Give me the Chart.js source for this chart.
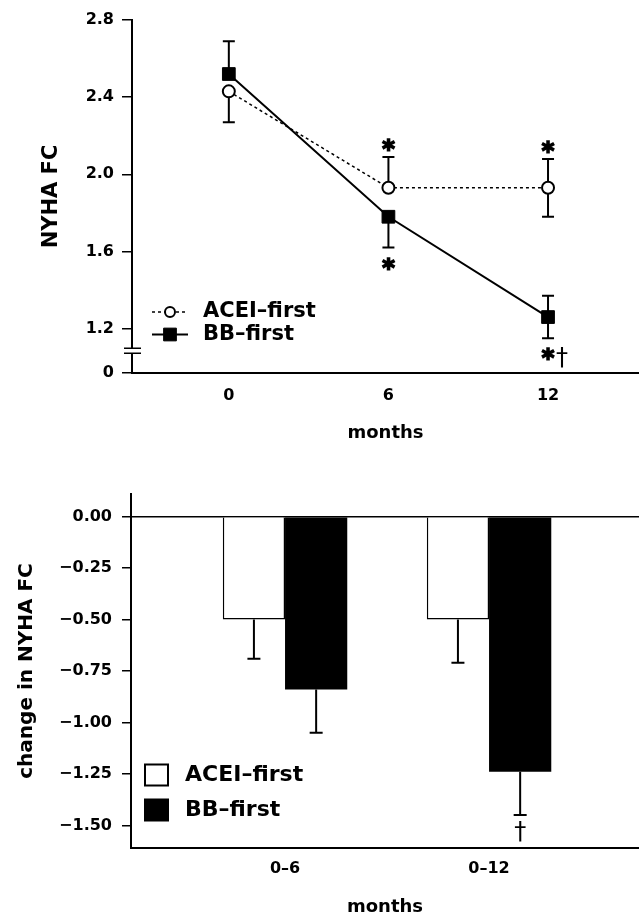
<!DOCTYPE html>
<html>
<head>
<meta charset="utf-8">
<script src="https://cdn.jsdelivr.net/npm/chart.js@4.4.1/dist/chart.umd.min.js"></script>
<style>
  html, body { margin: 0; padding: 0; background: #fff; }
  #wrap { position: relative; width: 639px; height: 918px; }
  canvas { position: absolute; left: 0; }
  #nyhaChart { top: 0; }
  #changeChart { top: 455px; }
</style>
</head>
<body>
<div id="wrap">
  <canvas id="nyhaChart" width="639" height="455"></canvas>
  <canvas id="changeChart" width="639" height="463"></canvas>
</div>
<script>
// top panel: NYHA class over time
const months = [0, 6, 12];
const aceiNyha = [2.43, 1.93, 1.93];
const aceiNyhaErr = [0.16, 0.16, 0.15];
const aceiErrSide = ['down', 'up', 'both'];
const bbNyha = [2.52, 1.78, 1.26];
const bbNyhaErr = [0.17, 0.16, 0.11];
const bbErrSide = ['up', 'down', 'both'];
const nyhaTicks = [1.2, 1.6, 2.0, 2.4, 2.8];
const nyhaBase = 0.97; // bottom of the broken axis, shown as "0"

// bottom panel: change in NYHA class
const periods = ['0–6', '0–12'];
const aceiChange = [-0.50, -0.50];
const aceiChangeErr = [0.19, 0.21];
const bbChange = [-0.84, -1.24];
const bbChangeErr = [0.21, 0.21];
const changeTicks = [0, -0.25, -0.5, -0.75, -1.0, -1.25, -1.5];

// significance marks (dataset, point, symbol)
const nyhaMarks = [
  {ds: 0, i: 1, text: '*', side: 'up'},
  {ds: 0, i: 2, text: '*', side: 'up'},
  {ds: 1, i: 1, text: '*', side: 'down'},
  {ds: 1, i: 2, text: '*', side: 'down'},
  {ds: 1, i: 2, text: '†', side: 'down', dx: 14, dy: 3}
];
const changeMarks = [
  {ds: 1, i: 1, text: '†', side: 'down'}
];

const FONT = "'DejaVu Sans', sans-serif";
Chart.defaults.font.family = FONT;
Chart.defaults.font.weight = 'bold';
Chart.defaults.font.size = 16;
Chart.defaults.color = '#000';

function errEnds(ds, i, yScale) {
  const v = ds.data[i].y, e = ds.errors[i];
  const side = ds.errorSides ? ds.errorSides[i] : (v < 0 ? 'down' : 'up');
  const ends = [];
  if (side !== 'down') ends.push({side: 'up', py: yScale.getPixelForValue(v + e)});
  if (side !== 'up') ends.push({side: 'down', py: yScale.getPixelForValue(v - e)});
  return ends;
}

function drawErrorBars(chart, opts) {
  const ctx = chart.ctx, y = chart.scales.y;
  ctx.save();
  ctx.strokeStyle = '#000';
  ctx.lineWidth = opts.lineWidth;
  chart.data.datasets.forEach((ds, d) => {
    chart.getDatasetMeta(d).data.forEach((el, i) => {
      errEnds(ds, i, y).forEach(end => {
        ctx.beginPath();
        ctx.moveTo(el.x, el.y);
        ctx.lineTo(el.x, end.py);
        ctx.moveTo(el.x - opts.cap, end.py);
        ctx.lineTo(el.x + opts.cap, end.py);
        ctx.stroke();
      });
    });
  });
  ctx.restore();
}

const errorBars = {
  id: 'errorBars',
  beforeDatasetsDraw(chart, args, opts) { if (!opts.onTop) drawErrorBars(chart, opts); },
  afterDatasetsDraw(chart, args, opts) { if (opts.onTop) drawErrorBars(chart, opts); }
};

// asterisks / daggers next to the error bar ends
const sigMarks = {
  id: 'sigMarks',
  afterDatasetsDraw(chart, args, opts) {
    const ctx = chart.ctx, y = chart.scales.y;
    ctx.save();
    ctx.fillStyle = '#000';
    ctx.strokeStyle = '#000';
    ctx.textAlign = 'center';
    ctx.textBaseline = 'alphabetic';
    opts.marks.forEach(m => {
      const ds = chart.data.datasets[m.ds];
      const el = chart.getDatasetMeta(m.ds).data[m.i];
      const end = errEnds(ds, m.i, y).find(e => e.side === m.side);
      const gap = m.side === 'up' ? -opts.gapUp : opts.gapDown;
      const cy = end.py + gap + (m.dy || 0);
      const star = m.text === '*';
      ctx.font = star ? `bold ${opts.starSize}px ${FONT}` : `normal ${opts.daggerSize}px ${FONT}`;
      const tm = ctx.measureText(m.text);
      const base = cy + (tm.actualBoundingBoxAscent - tm.actualBoundingBoxDescent) / 2;
      const x = el.x + (m.dx || 0);
      ctx.fillText(m.text, x, base);
      if (star) {
        ctx.lineWidth = 1.6;
        ctx.strokeText(m.text, x, base);
      }
    });
    ctx.restore();
  }
};

// legend drawn inside the plot area
const insetLegend = {
  id: 'insetLegend',
  afterDraw(chart, args, o) {
    const ctx = chart.ctx;
    ctx.save();
    ctx.font = `bold ${o.fontSize}px ${FONT}`;
    ctx.textBaseline = 'middle';
    chart.data.datasets.forEach((ds, d) => {
      const y = o.y + d * o.rowGap;
      if (o.kind === 'line') {
        ctx.strokeStyle = '#000';
        ctx.lineWidth = ds.borderWidth;
        ctx.setLineDash(ds.borderDash || []);
        ctx.beginPath();
        ctx.moveTo(o.x, y);
        ctx.lineTo(o.x + o.sample, y);
        ctx.stroke();
        ctx.setLineDash([]);
        const cx = o.x + o.sample / 2;
        ctx.fillStyle = ds.pointBackgroundColor;
        ctx.lineWidth = ds.pointBorderWidth;
        ctx.beginPath();
        if (ds.pointStyle === 'rect') {
          const s = ds.pointRadius * Math.SQRT1_2;
          ctx.rect(cx - s, y - s, 2 * s, 2 * s);
        } else {
          ctx.arc(cx, y, o.circleRadius, 0, Math.PI * 2);
        }
        ctx.fill();
        ctx.stroke();
      } else {
        ctx.fillStyle = ds.backgroundColor;
        ctx.strokeStyle = '#000';
        ctx.lineWidth = 2;
        ctx.fillRect(o.x, y - o.boxH / 2, o.boxW, o.boxH);
        ctx.strokeRect(o.x, y - o.boxH / 2, o.boxW, o.boxH);
      }
      ctx.fillStyle = '#000';
      ctx.fillText(ds.label, o.x + o.sample + o.textGap, y);
    });
    ctx.restore();
  }
};

// break marks on the top y axis
const axisBreak = {
  id: 'axisBreak',
  afterDraw(chart) {
    const {ctx, scales: {y}, chartArea} = chart;
    const py = (y.getPixelForValue(nyhaTicks[0]) + y.getPixelForValue(nyhaBase)) / 2;
    const x = chartArea.left;
    ctx.save();
    ctx.fillStyle = '#fff';
    ctx.fillRect(x - 3, py - 2.5, 6, 5);
    ctx.strokeStyle = '#000';
    ctx.lineWidth = 1.5;
    ctx.beginPath();
    ctx.moveTo(x - 8, py - 2.5); ctx.lineTo(x + 9, py - 2.5);
    ctx.moveTo(x - 8, py + 2.5); ctx.lineTo(x + 9, py + 2.5);
    ctx.stroke();
    ctx.restore();
  }
};

// ---------- top chart ----------
new Chart(document.getElementById('nyhaChart'), {
  type: 'line',
  data: {
    datasets: [{
      label: 'ACEI–first',
      data: months.map((m, i) => ({x: m, y: aceiNyha[i]})),
      errors: aceiNyhaErr,
      errorSides: aceiErrSide,
      borderColor: '#000',
      borderWidth: 1.5,
      borderDash: [3, 3],
      pointStyle: 'circle',
      pointRadius: 6,
      pointBackgroundColor: '#fff',
      pointBorderColor: '#000',
      pointBorderWidth: 2
    }, {
      label: 'BB–first',
      data: months.map((m, i) => ({x: m, y: bbNyha[i]})),
      errors: bbNyhaErr,
      errorSides: bbErrSide,
      borderColor: '#000',
      borderWidth: 2,
      pointStyle: 'rect',
      pointRadius: 9,
      pointBackgroundColor: '#000',
      pointBorderColor: '#000',
      pointBorderWidth: 1
    }]
  },
  options: {
    responsive: false,
    animation: false,
    layout: {autoPadding: false, padding: {top: 20, right: 0, left: 0, bottom: 0}},
    plugins: {
      legend: {display: false},
      tooltip: {enabled: false},
      errorBars: {lineWidth: 2, cap: 6, onTop: false},
      sigMarks: {marks: nyhaMarks, gapUp: 12, gapDown: 16, starSize: 24, daggerSize: 24},
      insetLegend: {kind: 'line', x: 152, y: 312, rowGap: 22.5, sample: 36, textGap: 15, fontSize: 21, circleRadius: 5}
    },
    scales: {
      x: {
        type: 'linear',
        min: -3.64,
        max: 15.42,
        afterBuildTicks: s => { s.ticks = months.map(v => ({value: v})); },
        afterFit: s => { s.height = 82; },
        ticks: {callback: v => String(v), padding: 5, maxRotation: 0},
        grid: {display: false},
        border: {display: true, color: '#000', width: 2},
        title: {display: true, text: 'months', font: {size: 18, weight: 'bold'}, padding: {top: 0, bottom: 11}}
      },
      y: {
        type: 'linear',
        min: nyhaBase,
        max: 2.8,
        afterBuildTicks: s => { s.ticks = [nyhaBase].concat(nyhaTicks).map(v => ({value: v})); },
        afterFit: s => { s.width = 132; },
        ticks: {callback: v => v === nyhaBase ? '0' : v.toFixed(1), padding: 8},
        grid: {drawOnChartArea: false, color: '#000', lineWidth: 1.5, tickLength: 10},
        border: {display: true, color: '#000', width: 2},
        title: {display: true, text: 'NYHA FC', font: {size: 21, weight: 'bold'}, padding: {top: 39, bottom: 0}}
      }
    }
  },
  plugins: [errorBars, sigMarks, insetLegend, axisBreak]
});

// ---------- bottom chart ----------
new Chart(document.getElementById('changeChart'), {
  type: 'bar',
  data: {
    datasets: [{
      label: 'ACEI–first',
      data: periods.map((p, i) => ({x: i + 1, y: aceiChange[i]})),
      errors: aceiChangeErr,
      backgroundColor: '#fff',
      borderColor: '#000',
      borderWidth: 1.5,
      borderSkipped: 'start'
    }, {
      label: 'BB–first',
      data: periods.map((p, i) => ({x: i + 1, y: bbChange[i]})),
      errors: bbChangeErr,
      backgroundColor: '#000',
      borderColor: '#000',
      borderWidth: 0
    }]
  },
  options: {
    responsive: false,
    animation: false,
    categoryPercentage: 0.61,
    barPercentage: 1.0,
    layout: {padding: {top: 39, right: 0, left: 0, bottom: 0}},
    plugins: {
      legend: {display: false},
      tooltip: {enabled: false},
      errorBars: {lineWidth: 2, cap: 6.5, onTop: true},
      sigMarks: {marks: changeMarks, gapUp: 12, gapDown: 16, starSize: 24, daggerSize: 24},
      insetLegend: {kind: 'box', x: 145, y: 320, rowGap: 35, sample: 23, textGap: 17, fontSize: 22, boxW: 23, boxH: 21}
    },
    scales: {
      x: {
        type: 'linear',
        min: 0.245,
        max: 2.735,
        offset: false,
        afterBuildTicks: s => { s.ticks = periods.map((p, i) => ({value: i + 1})); },
        afterFit: s => { s.height = 70; },
        ticks: {callback: v => periods[v - 1], padding: 3, maxRotation: 0},
        grid: {display: false, offset: false},
        border: {display: true, color: '#000', width: 2},
        title: {display: true, text: 'months', font: {size: 18, weight: 'bold'}, padding: {top: 0, bottom: 0}}
      },
      y: {
        type: 'linear',
        min: -1.61,
        max: 0.11,
        afterBuildTicks: s => { s.ticks = changeTicks.map(v => ({value: v})); },
        afterFit: s => { s.width = 131; },
        ticks: {callback: v => (v < 0 ? '−' : '') + Math.abs(v).toFixed(2), padding: 10},
        grid: {
          color: c => (c.tick && c.tick.value === 0) ? '#000' : 'rgba(0,0,0,0)',
          tickColor: '#000',
          lineWidth: 1.5,
          tickLength: 9
        },
        border: {display: true, color: '#000', width: 2},
        title: {display: true, text: 'change in NYHA FC', font: {size: 20, weight: 'bold'}, padding: {top: 15, bottom: 0}}
      }
    }
  },
  plugins: [errorBars, sigMarks, insetLegend]
});
</script>
</body>
</html>
